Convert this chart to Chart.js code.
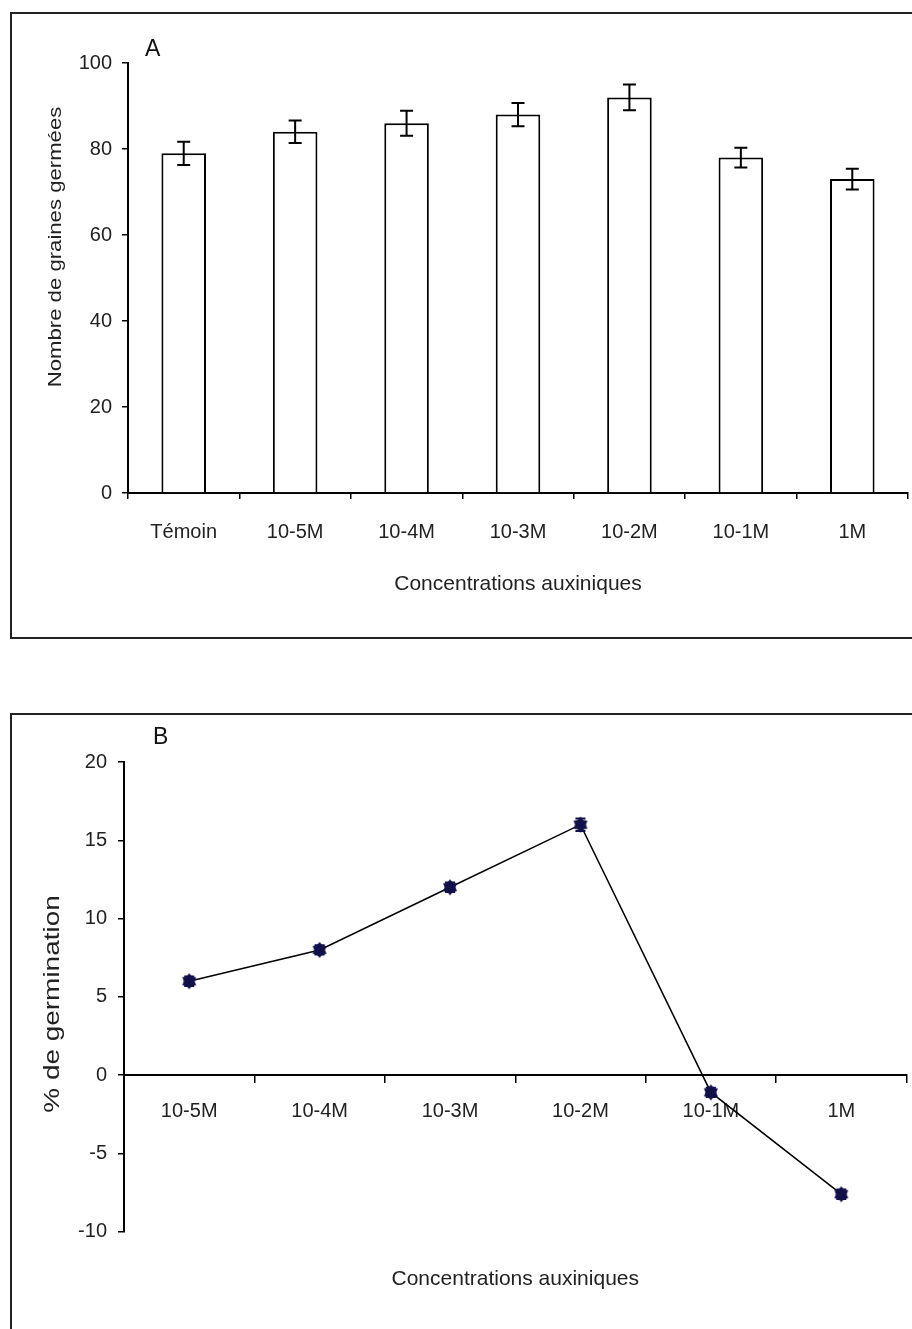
<!DOCTYPE html>
<html>
<head>
<meta charset="utf-8">
<script src="https://cdn.jsdelivr.net/npm/chart.js@4.4.1/dist/chart.umd.min.js"></script>
<style>
  html, body { margin: 0; padding: 0; background: #fff; }
  body { width: 912px; height: 1329px; overflow: hidden; position: relative;
         font-family: "Liberation Sans", Arial, sans-serif; }
  .frame { position: absolute; left: 10px; width: 1000px; border: 2px solid #222; box-sizing: border-box; }
  #frameA { top: 12px; height: 627px; }
  #frameB { top: 713px; height: 700px; }
  .wrap { position: absolute; left: 12px; width: 900px; }
  #wrapA { top: 14px; height: 620px; }
  #wrapB { top: 715px; height: 614px; }
  .panel { position: absolute; font-size: 23px; line-height: 23px; color: #111; }
  #panelA { left: 145px; top: 37px; }
  #panelB { left: 153px; top: 725px; }
</style>
</head>
<body>
<div class="frame" id="frameA"></div>
<div class="frame" id="frameB"></div>
<div class="wrap" id="wrapA"><canvas id="chartA" width="900" height="620"></canvas></div>
<div class="wrap" id="wrapB"><canvas id="chartB" width="900" height="614"></canvas></div>
<div class="panel" id="panelA">A</div>
<div class="panel" id="panelB">B</div>
<script>
// Panel A: number of germinated seeds per auxin concentration (mean ± error)
const categoriesA = ['Témoin', '10-5M', '10-4M', '10-3M', '10-2M', '10-1M', '1M'];
const germinatedSeeds = [79, 84, 86, 88, 92, 78, 73];
const germinatedSeedsErr = [2.7, 2.6, 2.9, 2.7, 3.0, 2.3, 2.4];
const yTicksA = [0, 20, 40, 60, 80, 100];

// Panel B: germination gain (%) relative to the control
const categoriesB = ['10-5M', '10-4M', '10-3M', '10-2M', '10-1M', '1M'];
const germinationPct = [6, 8, 12, 16, -1.1, -7.6];
const germinationPctErr = [0.3, 0.3, 0.3, 0.4, 0.3, 0.3];
const yTicksB = [-10, -5, 0, 5, 10, 15, 20];

const FONT = '"Liberation Sans", Arial, sans-serif';
const TEXT = '#222';

// Vertical error bars with caps, placed through the chart's own y scale
const errorBars = {
  id: 'errorBars',
  afterDatasetsDraw(chart, args, o) {
    const { ctx } = chart;
    const yScale = chart.scales.y;
    const meta = chart.getDatasetMeta(0);
    const values = chart.data.datasets[0].data;
    ctx.save();
    ctx.strokeStyle = o.color;
    ctx.lineWidth = o.lineWidth;
    meta.data.forEach((el, i) => {
      const x = el.x;
      const top = yScale.getPixelForValue(values[i] + o.errors[i]);
      const bot = yScale.getPixelForValue(values[i] - o.errors[i]);
      ctx.beginPath();
      ctx.moveTo(x, top); ctx.lineTo(x, bot);
      ctx.moveTo(x - o.capHalf, top); ctx.lineTo(x + o.capHalf, top);
      ctx.moveTo(x - o.capHalf, bot); ctx.lineTo(x + o.capHalf, bot);
      ctx.stroke();
    });
    ctx.restore();
  }
};

// Rotated y-axis caption, slightly elongated along its length
const sideTitle = {
  id: 'sideTitle',
  afterDraw(chart, args, o) {
    if (!o.text) return;
    const ctx = chart.ctx;
    ctx.save();
    ctx.translate(o.x, o.y);
    ctx.rotate(-Math.PI / 2);
    ctx.scale(o.stretch, 1);
    ctx.font = o.size + 'px ' + FONT;
    ctx.fillStyle = o.color;
    ctx.textAlign = 'center';
    ctx.textBaseline = 'middle';
    ctx.fillText(o.text, 0, 0);
    ctx.restore();
  }
};

// Six-pointed star marker used for the line points
function makeStar(r, color) {
  const c = document.createElement('canvas');
  const s = Math.ceil(r * 2 + 2);
  c.width = c.height = s;
  const g = c.getContext('2d');
  g.translate(s / 2, s / 2);
  g.fillStyle = color;
  g.beginPath();
  for (let i = 0; i < 12; i++) {
    const a = -Math.PI / 2 + i * Math.PI / 6;
    const rr = i % 2 ? r * 0.68 : r;
    g.lineTo(rr * Math.cos(a), rr * Math.sin(a));
  }
  g.closePath();
  g.fill();
  return c;
}

const axisLine = { display: true, color: '#000', width: 2 };
const tickFont = { size: 20, family: FONT };

new Chart(document.getElementById('chartA'), {
  type: 'bar',
  data: {
    labels: categoriesA,
    datasets: [{
      data: germinatedSeeds,
      backgroundColor: '#fff',
      borderColor: '#000',
      borderWidth: 2,
      categoryPercentage: 1,
      barPercentage: 0.4
    }]
  },
  options: {
    responsive: false,
    animation: false,
    layout: { padding: { left: 0, top: 49, right: 4, bottom: 30 } },
    plugins: {
      legend: { display: false },
      tooltip: { enabled: false },
      errorBars: { errors: germinatedSeedsErr, color: '#000', lineWidth: 2, capHalf: 6.5 },
      sideTitle: { text: 'Nombre de graines germées', x: 44, y: 233, size: 18, stretch: 1.23, color: TEXT }
    },
    scales: {
      x: {
        grid: { display: true, offset: true, drawOnChartArea: false, drawTicks: true, tickLength: 6, color: '#000', lineWidth: 1.5 },
        border: axisLine,
        ticks: { color: TEXT, font: tickFont, padding: 21, maxRotation: 0, autoSkip: false },
        title: { display: true, text: 'Concentrations auxiniques', color: TEXT, font: { size: 21, family: FONT }, padding: { top: 0, bottom: 7 } },
        afterFit(s) { s.height = 111; }
      },
      y: {
        min: yTicksA[0],
        max: yTicksA[yTicksA.length - 1],
        ticks: { stepSize: yTicksA[1] - yTicksA[0], color: TEXT, font: tickFont, padding: 10 },
        grid: { drawOnChartArea: false, tickLength: 6, color: '#000', lineWidth: 1.5 },
        border: axisLine,
        afterFit(s) { s.width = 116; }
      }
    }
  },
  plugins: [errorBars, sideTitle]
});

new Chart(document.getElementById('chartB'), {
  type: 'line',
  data: {
    labels: categoriesB,
    datasets: [{
      data: germinationPct,
      borderColor: '#000',
      borderWidth: 1.5,
      pointStyle: makeStar(8, '#12104a'),
      tension: 0,
      fill: false
    }]
  },
  options: {
    responsive: false,
    animation: false,
    layout: { padding: { left: 0, top: 47, right: 4, bottom: 37 } },
    plugins: {
      legend: { display: false },
      tooltip: { enabled: false },
      title: {
        display: true, position: 'bottom', fullSize: false,
        text: 'Concentrations auxiniques', color: TEXT,
        font: { size: 21, family: FONT, weight: 'normal' },
        padding: { top: 35, bottom: 0 }
      },
      errorBars: { errors: germinationPctErr, color: '#12104a', lineWidth: 2, capHalf: 5 },
      sideTitle: { text: '% de germination', x: 41, y: 289, size: 22, stretch: 1.27, color: TEXT }
    },
    scales: {
      x: {
        position: { y: 0 },
        offset: true,
        grid: { display: true, offset: true, drawOnChartArea: false, drawTicks: true, tickLength: 7, color: '#000', lineWidth: 1.5 },
        border: axisLine,
        ticks: { color: TEXT, font: tickFont, padding: 17, maxRotation: 0, autoSkip: false }
      },
      y: {
        min: yTicksB[0],
        max: yTicksB[yTicksB.length - 1],
        ticks: { stepSize: yTicksB[1] - yTicksB[0], color: TEXT, font: tickFont, padding: 11 },
        grid: { drawOnChartArea: false, tickLength: 6, color: '#000', lineWidth: 1.5 },
        border: axisLine,
        afterFit(s) { s.width = 112; }
      }
    }
  },
  plugins: [errorBars, sideTitle]
});
</script>
</body>
</html>
